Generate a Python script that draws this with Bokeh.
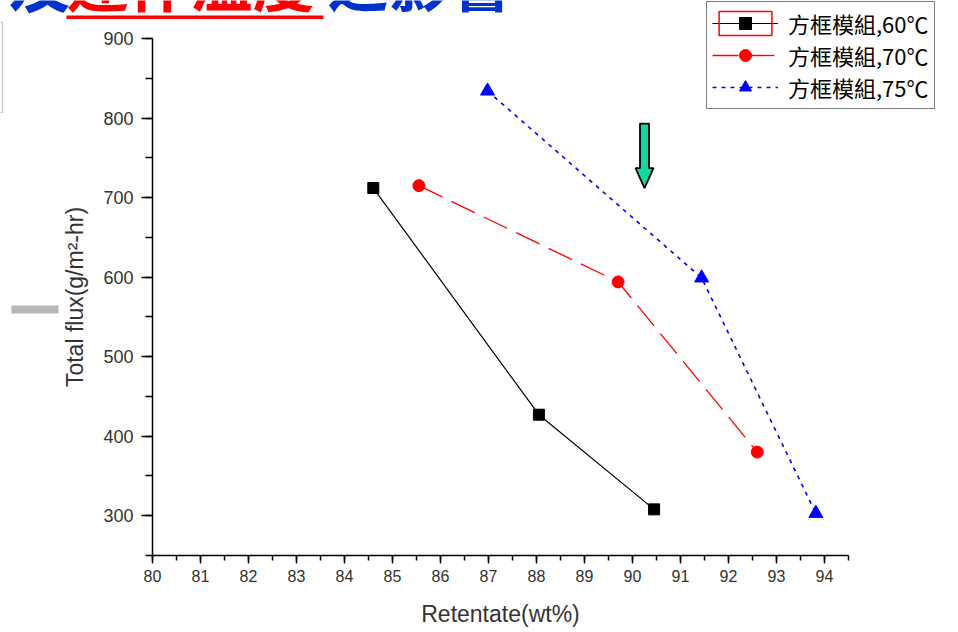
from bokeh.plotting import figure
from bokeh.models import (Range1d, SingleIntervalTicker, Legend, LegendItem, Label,
                          BoxAnnotation, LinearAxis)
from bokeh.embed import file_html
from bokeh.resources import INLINE

# ---- data ----
x60 = [84.6, 88.05, 90.45]
y60 = [712, 427, 308]
x70 = [85.55, 89.7, 92.6]
y70 = [715, 594, 380]
x75 = [86.98, 91.44, 93.82]
y75 = [834, 599, 303]
labels = ["方框模組,60℃", "方框模組,70℃", "方框模組,75℃"]
x_title = "Retentate(wt%)"
y_title = "Total flux(g/m²-hr)"
slide_title = ["及", "運作溫度", "之影響"]

# arrow annotation (data units)
arrow_x, arrow_top, arrow_neck, arrow_tip = 90.25, 793, 737, 712

W, H = 958, 632
FL, FR, FT, FB = 152, 848, 38, 555
X0, X1, Y0, Y1 = 80, 94.5, 250, 900

def px_x(px):
    return X0 + (px - FL) / (FR - FL) * (X1 - X0)

def px_y(py):
    return Y1 - (py - FT) / (FB - FT) * (Y1 - Y0)

p = figure(width=W, height=H, output_backend="svg", toolbar_location=None,
           x_range=Range1d(px_x(0), px_x(W)), y_range=Range1d(px_y(H), px_y(0)),
           x_axis_location=None, y_axis_location=None,
           min_border=0)
p.outline_line_color = None
p.xgrid.visible = False
p.ygrid.visible = False
p.background_fill_color = "white"
p.border_fill_color = "white"

xax = LinearAxis(fixed_location=Y0, bounds=(X0, X1),
                 ticker=SingleIntervalTicker(interval=1, num_minor_ticks=2))
yax = LinearAxis(fixed_location=X0, bounds=(Y0, Y1),
                 ticker=SingleIntervalTicker(interval=100, num_minor_ticks=2))
for ax in (xax, yax):
    ax.axis_line_color = "black"
    ax.axis_line_width = 1.5
    ax.major_tick_line_color = "black"
    ax.major_tick_line_width = 1.5
    ax.minor_tick_line_color = "black"
    ax.minor_tick_line_width = 1.5
    ax.major_tick_in = 0
    ax.minor_tick_in = 0
    ax.major_label_text_font = "Liberation Sans"
    ax.major_label_text_color = "#333333"
    ax.axis_label_text_font = "Liberation Sans"
    ax.axis_label_text_font_size = "23px"
    ax.axis_label_text_font_style = "normal"
    ax.axis_label_text_color = "#333333"
xax.major_label_text_font_size = "16px"
yax.major_label_text_font_size = "18px"
xax.major_tick_out = 8
xax.minor_tick_out = 5
yax.major_tick_out = 11
yax.minor_tick_out = 7
xax.axis_label = x_title
yax.axis_label = y_title
xax.major_label_standoff = 6
yax.major_label_standoff = 8
xax.axis_label_standoff = 16
yax.axis_label_standoff = 12
p.add_layout(xax, "below")
p.add_layout(yax, "left")

# zero-size quads at the 60 °C points (hidden under the square markers):
# used only for the red selection frame around the first legend symbol
sel = p.quad(left=x60, right=x60, top=y60, bottom=y60, fill_alpha=0,
             line_color="red", line_width=1.5)
l60 = p.line(x60, y60, line_color="black", line_width=1.2)
s60 = p.scatter(x60, y60, marker="square", size=11, fill_color="black", line_color="black")
l70 = p.line(x70, y70, line_color="red", line_width=1.3, line_dash="26 10")
s70 = p.scatter(x70, y70, marker="circle", size=12, fill_color="red", line_color="red")
l75 = p.line(x75, y75, line_color="blue", line_width=1.6, line_dash="4 5")
s75 = p.scatter(x75, y75, marker="triangle", size=14, fill_color="blue", line_color="blue")

# arrow
sw = px_x(FL + 4.5) - X0
hw = px_x(FL + 9) - X0
ax_pts = [arrow_x - sw, arrow_x + sw, arrow_x + sw, arrow_x + hw, arrow_x, arrow_x - hw, arrow_x - sw]
ay_pts = [arrow_top, arrow_top, arrow_neck, arrow_neck, arrow_tip, arrow_neck, arrow_neck]
p.patch(ax_pts, ay_pts, fill_color="#10d8a0", line_color="black", line_width=1.8)

legend = Legend(items=[LegendItem(label=labels[0], renderers=[l60, s60, sel]),
                       LegendItem(label=labels[1], renderers=[l70, s70]),
                       LegendItem(label=labels[2], renderers=[l75, s75])],
                location=(706, H - 109))
legend.label_text_font = "Noto Sans CJK TC"
legend.label_text_font_size = "22px"
legend.label_text_color = "black"
legend.glyph_width = 66
legend.glyph_height = 30
legend.label_height = 30
legend.spacing = 0
legend.padding = 5
legend.margin = 0
legend.label_standoff = 10
legend.border_line_color = "black"
legend.border_line_width = 1.5
legend.background_fill_alpha = 1
p.add_layout(legend, "center")

# slide decorations
p.add_layout(BoxAnnotation(left=px_x(-40), right=px_x(2), top=px_y(22), bottom=px_y(112),
                           fill_alpha=0, line_color="#333333", line_width=1.2, level="overlay"))
p.add_layout(BoxAnnotation(left=px_x(11), right=px_x(58), top=px_y(305), bottom=px_y(313),
                           fill_color="#b8b8b8", fill_alpha=1, line_color=None, level="overlay"))

# cut-off slide title
tfont = "Noto Sans CJK TC"
p.add_layout(Label(x=px_x(8), y=px_y(24), text=slide_title[0], text_font=tfont,
                   text_font_size="62px", text_font_style="bold", text_color="#0033cc",
                   text_baseline="bottom"))
p.add_layout(Label(x=px_x(66), y=px_y(24), text=slide_title[1], text_font=tfont,
                   text_font_size="62px", text_font_style="bold", text_color="red",
                   text_baseline="bottom"))
p.add_layout(Label(x=px_x(326), y=px_y(24), text=slide_title[2], text_font=tfont,
                   text_font_size="62px", text_font_style="bold", text_color="#0033cc",
                   text_baseline="bottom"))
p.add_layout(BoxAnnotation(left=px_x(66), right=px_x(323), top=px_y(15), bottom=px_y(18.5),
                           fill_color="red", fill_alpha=1, line_color=None, level="overlay"))

open("out.html", "w").write(file_html(p, INLINE))
